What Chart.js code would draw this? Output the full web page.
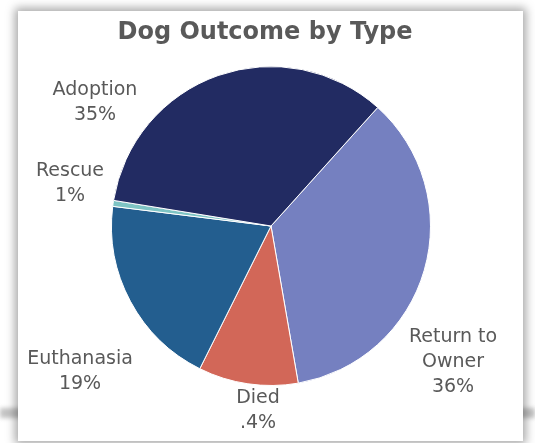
<!DOCTYPE html>
<html>
<head>
<meta charset="utf-8">
<script src="https://cdn.jsdelivr.net/npm/chart.js@4"></script>
<style>
  html, body { margin: 0; padding: 0; background: #fff; }
  body { width: 535px; height: 443px; position: relative; overflow: hidden; }
  #band { position: absolute; left: 0; top: 408px; width: 535px; height: 10px;
          background: #c4c4c4; filter: blur(2px); }
  #box { position: absolute; left: 18px; top: 11px; width: 505px; height: 430px;
         background: #fff; box-shadow: 0 0 9px 3px rgba(0,0,0,0.35); }
  #dogChart { position: absolute; left: 0; top: 0; }
</style>
</head>
<body>
<div id="band"></div>
<div id="box"><canvas id="dogChart" width="505" height="430"></canvas></div>
<script>
// data, in drawing order clockwise from the Return to Owner edge
var outcomeTypes = ['Return to Owner', 'Died', 'Euthanasia', 'Rescue', 'Adoption'];
var outcomeShare = [35.6, 10.1, 19.6, 0.6, 34.1];
var shareLabels = ['36%', '.4%', '19%', '1%', '35%'];
var sliceColors = ['#7580c0', '#d26758', '#235e8f', '#7ec4c4', '#222b62'];
var chartTitle = 'Dog Outcome by Type';

// where each label block sits, relative to the pie centre
var labelOffsets = [[182, 136], [-13, 185], [-191, 146], [-201, -42], [-176, -123]];
var labelLines = [['Return to', 'Owner'], ['Died'], ['Euthanasia'], ['Rescue'], ['Adoption']];

var outsideLabels = {
    id: 'outsideLabels',
    afterDraw: function (chart) {
        var ctx = chart.ctx;
        var arc = chart.getDatasetMeta(0).data[0];
        ctx.save();
        ctx.fillStyle = '#595959';
        ctx.textAlign = 'center';
        ctx.textBaseline = 'middle';
        // title, centred on the box rather than on the padded area
        ctx.font = 'bold 24px "DejaVu Sans"';
        ctx.fillText(chartTitle, arc.x - 6, 22);

        ctx.font = '19px "DejaVu Sans"';
        var lineH = 25;
        outcomeTypes.forEach(function (t, i) {
            var lines = labelLines[i].concat([shareLabels[i]]);
            var cx = arc.x + labelOffsets[i][0];
            var top = arc.y + labelOffsets[i][1] - (lines.length - 1) * lineH / 2;
            lines.forEach(function (s, k) {
                ctx.fillText(s, cx, top + k * lineH);
            });
        });
        ctx.restore();
    }
};

var ctxPie = document.getElementById('dogChart').getContext('2d');
var pieChart = new Chart(ctxPie, {
    type: 'pie',
    data: {
        labels: outcomeTypes,
        datasets: [{
            data: outcomeShare,
            backgroundColor: sliceColors,
            borderColor: '#ffffff',
            borderWidth: 1,
            hoverOffset: 0
        }]
    },
    options: {
        responsive: false,
        animation: false,
        rotation: 42,
        layout: { padding: { left: 93, right: 92, top: 55, bottom: 55 } },
        plugins: {
            legend: { display: false },
            tooltip: { enabled: false },
            title: { display: false }
        }
    },
    plugins: [outsideLabels]
});
</script>
</body>
</html>
